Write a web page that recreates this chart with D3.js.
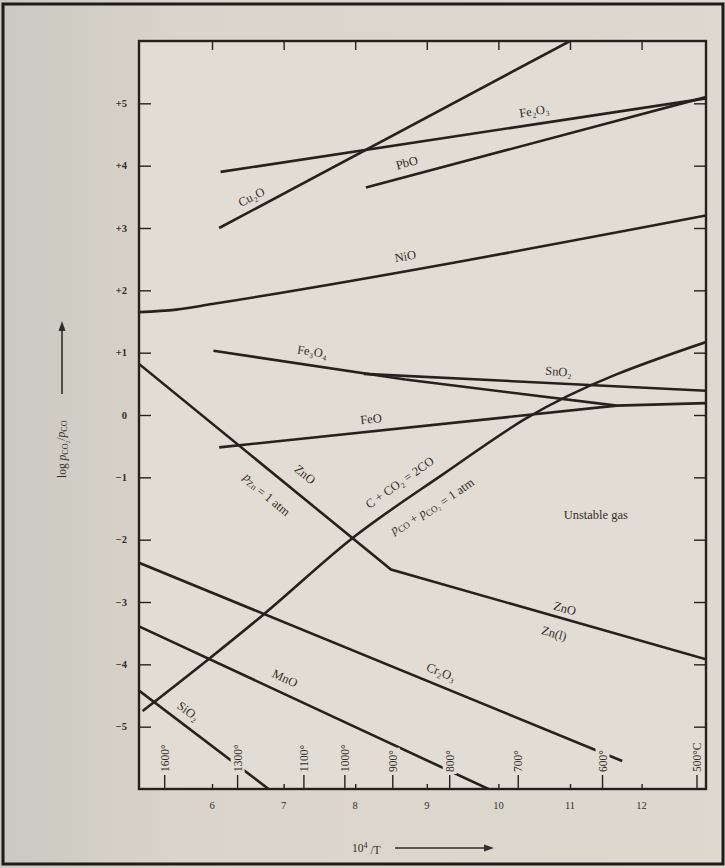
<!DOCTYPE html>
<html>
<head>
<meta charset="utf-8">
<script src="https://cdn.jsdelivr.net/npm/d3@7"></script>
<style>
  body { margin: 0; background: #d7d3ca; }
  svg { display: block; }
</style>
</head>
<body>
<svg id="chart" width="725" height="868"></svg>
<script>
// axis values
const xTicks = [6, 7, 8, 9, 10, 11, 12];
const yTicks = [5, 4, 3, 2, 1, 0, -1, -2, -3, -4, -5];
const tempsC = [1600, 1300, 1100, 1000, 900, 800, 700, 600, 500];
const tempLabels = ["1600°", "1300°", "1100°", "1000°", "900°", "800°", "700°", "600°", "500°C"];

// equilibrium lines, [10^4/T, log pCO2/pCO]
const cu2o = [[6.1, 3.0], [11.0, 6.0]];
const fe2o3 = [[6.12, 3.9], [12.9, 5.08]];
const pbo = [[8.15, 3.65], [12.9, 5.1]];
const nio = [[4.98, 1.65], [5.5, 1.69], [6.0, 1.78], [12.9, 3.2]];
const fe3o4 = [[6.02, 1.03], [8.7, 0.57], [11.65, 0.15], [12.9, 0.19]];
const sno2 = [[8.12, 0.66], [12.9, 0.39]];
const feo = [[6.1, -0.52], [11.65, 0.15]];
const zno = [[4.98, 0.82], [8.5, -2.48], [12.9, -3.92]];
const boudouard = [[5.03, -4.75], [5.96, -3.91], [6.7, -3.22], [7.99, -1.95], [9.24, -0.94], [10.38, -0.06], [12.9, 1.17]];
const cr2o3 = [[4.98, -2.37], [11.73, -5.55]];
const mno = [[4.98, -3.39], [9.86, -6.0]];
const sio2 = [[4.98, -4.42], [6.79, -6.0]];

const series = [cu2o, fe2o3, pbo, nio, fe3o4, sno2, feo, zno, boudouard, cr2o3, mno, sio2];
const smooth = [nio, boudouard];

// labels on the lines: text, x, y, angle
const notes = [
  ["Cu₂O", 6.55, 3.5, -27],
  ["Fe₂O₃", 10.5, 4.88, -9],
  ["PbO", 8.72, 4.05, -15],
  ["NiO", 8.7, 2.55, -10],
  ["Fe₃O₄", 7.4, 1.02, 9],
  ["SnO₂", 10.84, 0.7, 4],
  ["FeO", 8.22, -0.06, -6],
  ["ZnO", 7.3, -0.95, 39],
  ["P_Zn = 1 atm", 6.78, -1.25, 39],
  ["C + CO₂ = 2CO", 8.62, -1.08, -35],
  ["P_CO + P_CO₂ = 1 atm", 9.05, -1.42, -35],
  ["ZnO", 10.93, -3.1, 16],
  ["Zn(l)", 10.78, -3.5, 16],
  ["Cr₂O₃", 9.2, -4.12, 22],
  ["MnO", 7.02, -4.22, 25],
  ["SiO₂", 5.67, -4.75, 37],
  ["Unstable gas", 11.36, -1.6, 0]
];

const W = 725, H = 868;
const box = {left: 139, right: 706, top: 41, bottom: 789};
const ink = "#26211d";
const paper = "#e1ddd4";
const textInk = "#332d29";
const font = "Liberation Serif, DejaVu Serif, serif";

const svg = d3.select("#chart");

// page, with a slight shadow on the left like the photo
const grad = svg.append("defs").append("linearGradient").attr("id", "shade");
grad.append("stop").attr("offset", "0%").attr("stop-color", "#cbc8c1");
grad.append("stop").attr("offset", "25%").attr("stop-color", "#d9d5cc");
grad.append("stop").attr("offset", "100%").attr("stop-color", "#ddd9cf");
svg.append("rect").attr("width", W).attr("height", H).attr("fill", "url(#shade)");
svg.append("rect")
    .attr("x", 3).attr("y", 4).attr("width", W - 5).attr("height", H - 8)
    .attr("fill", "none").attr("stroke", "#1e1b18").attr("stroke-width", 3);

svg.select("defs").append("clipPath").attr("id", "plot")
  .append("rect")
    .attr("x", box.left).attr("y", box.top)
    .attr("width", box.right - box.left).attr("height", box.bottom - box.top);

const x = d3.scaleLinear().domain([4.98, 12.9]).range([box.left, box.right]);
const y = d3.scaleLinear().domain([-6, 6]).range([box.bottom, box.top]);

svg.append("rect")
    .attr("x", box.left).attr("y", box.top)
    .attr("width", box.right - box.left).attr("height", box.bottom - box.top)
    .attr("fill", paper);

// lines
const straight = d3.line().x(d => x(d[0])).y(d => y(d[1]));
const curved = d3.line().x(d => x(d[0])).y(d => y(d[1])).curve(d3.curveMonotoneX);

svg.append("g").attr("clip-path", "url(#plot)")
  .selectAll("path")
  .data(series)
  .join("path")
    .attr("d", d => smooth.includes(d) ? curved(d) : straight(d))
    .attr("fill", "none")
    .attr("stroke", ink)
    .attr("stroke-width", 2.6)
    .attr("stroke-linecap", "butt");

// line labels
function richText(sel, s) {
  // P_xx means p with subscript
  const m = s.split(/(P_[A-Za-z₂]+)/);
  m.forEach(part => {
    if (part.startsWith("P_")) {
      sel.append("tspan").attr("font-style", "italic").text("p");
      sel.append("tspan").attr("font-size", "0.72em").attr("dy", "0.3em").text(part.slice(2));
      sel.append("tspan").attr("dy", "-0.3em").text("");
    } else if (part.length) {
      sel.append("tspan").text(part);
    }
  });
}

svg.append("g")
  .selectAll("text")
  .data(notes)
  .join("text")
    .attr("transform", d => `translate(${x(d[1])},${y(d[2])}) rotate(${d[3]})`)
    .attr("text-anchor", "middle")
    .attr("dy", "0.35em")
    .attr("font-family", font)
    .attr("font-size", 12.5)
    .attr("fill", textInk)
    .each(function(d) { richText(d3.select(this), d[0]); });

// axis frame
svg.append("rect")
    .attr("x", box.left).attr("y", box.top)
    .attr("width", box.right - box.left).attr("height", box.bottom - box.top)
    .attr("fill", "none").attr("stroke", ink).attr("stroke-width", 2.4);

// left axis with labels, right axis ticks only (all inward)
const yLeft = svg.append("g").attr("transform", `translate(${box.left},0)`)
  .call(d3.axisRight(y).tickValues(yTicks).tickSize(12).tickFormat(""));
yLeft.select(".domain").remove();
yLeft.selectAll("line").attr("stroke", ink).attr("stroke-width", 1.4);

const yRight = svg.append("g").attr("transform", `translate(${box.right},0)`)
  .call(d3.axisLeft(y).tickValues(yTicks).tickSize(12).tickFormat(""));
yRight.select(".domain").remove();
yRight.selectAll("line").attr("stroke", ink).attr("stroke-width", 1.4);

svg.append("g")
  .selectAll("text")
  .data(yTicks)
  .join("text")
    .attr("x", box.left - 12)
    .attr("y", d => y(d))
    .attr("dy", "0.35em")
    .attr("text-anchor", "end")
    .attr("font-family", font)
    .attr("font-size", 10.5)
    .attr("font-weight", "bold")
    .attr("fill", textInk)
    .text(d => d > 0 ? "+" + d : d < 0 ? "−" + (-d) : "0");

// top ticks and bottom integer ticks
const xTop = svg.append("g").attr("transform", `translate(0,${box.top})`)
  .call(d3.axisBottom(x).tickValues(xTicks).tickSize(9).tickFormat(""));
xTop.select(".domain").remove();
xTop.selectAll("line").attr("stroke", ink).attr("stroke-width", 1.4);

const xBottom = svg.append("g").attr("transform", `translate(0,${box.bottom})`)
  .call(d3.axisTop(x).tickValues(xTicks).tickSize(5).tickFormat(""));
xBottom.select(".domain").remove();
xBottom.selectAll("line").attr("stroke", ink).attr("stroke-width", 1.4);

svg.append("g")
  .selectAll("text")
  .data(xTicks)
  .join("text")
    .attr("x", d => x(d))
    .attr("y", box.bottom + 20)
    .attr("text-anchor", "middle")
    .attr("font-family", font)
    .attr("font-size", 10.5)
    .attr("fill", textInk)
    .text(d => d);

// temperature scale along the bottom
const tempX = tempsC.map(t => Math.min(x(1e4 / (t + 273)), box.right - 9));
const tg = svg.append("g");
tg.selectAll("line")
  .data(tempX)
  .join("line")
    .attr("x1", d => d).attr("x2", d => d)
    .attr("y1", box.bottom).attr("y2", box.bottom - 14)
    .attr("stroke", ink).attr("stroke-width", 1.4);

const tempText = tg.selectAll("text")
  .data(tempLabels)
  .join("text")
    .attr("transform", (d, i) => `translate(${tempX[i] + 4},${box.bottom - 17}) rotate(-90)`)
    .attr("font-family", font)
    .attr("font-size", 11.5)
    .attr("fill", textInk)
    .text(d => d);

// knock out the lines behind each temperature label
tempText.each(function() {
  const b = this.getBBox();
  d3.select(this.parentNode).insert("rect", "text")
    .attr("transform", d3.select(this).attr("transform"))
    .attr("x", b.x - 2).attr("y", b.y - 1)
    .attr("width", b.width + 4).attr("height", b.height + 2)
    .attr("fill", paper);
});

// axis titles
const xt = svg.append("text")
    .attr("x", 352).attr("y", 852)
    .attr("font-family", font).attr("font-size", 11.5).attr("fill", textInk);
xt.append("tspan").text("10");
xt.append("tspan").attr("font-size", "0.7em").attr("dy", "-0.5em").text("4");
xt.append("tspan").attr("dy", "0.5em").text(" /T");
svg.append("line")
    .attr("x1", 395).attr("x2", 486).attr("y1", 848).attr("y2", 848)
    .attr("stroke", textInk).attr("stroke-width", 1.6);
svg.append("path")
    .attr("d", "M494,848 L484,844.5 L484,851.5 Z").attr("fill", textInk);

const yt = svg.append("text")
    .attr("transform", "translate(66,478) rotate(-90)")
    .attr("font-family", font).attr("font-size", 11.5).attr("fill", textInk);
yt.append("tspan").text("log ");
yt.append("tspan").attr("font-style", "italic").text("p");
yt.append("tspan").attr("font-size", "0.7em").attr("dy", "0.3em").text("CO₂");
yt.append("tspan").attr("dy", "-0.3em").text("/");
yt.append("tspan").attr("font-style", "italic").text("p");
yt.append("tspan").attr("font-size", "0.7em").attr("dy", "0.3em").text("CO");
svg.append("line")
    .attr("x1", 62).attr("x2", 62).attr("y1", 394).attr("y2", 330)
    .attr("stroke", textInk).attr("stroke-width", 1.6);
svg.append("path")
    .attr("d", "M62,321 L58.5,331 L65.5,331 Z").attr("fill", textInk);
</script>
</body>
</html>
